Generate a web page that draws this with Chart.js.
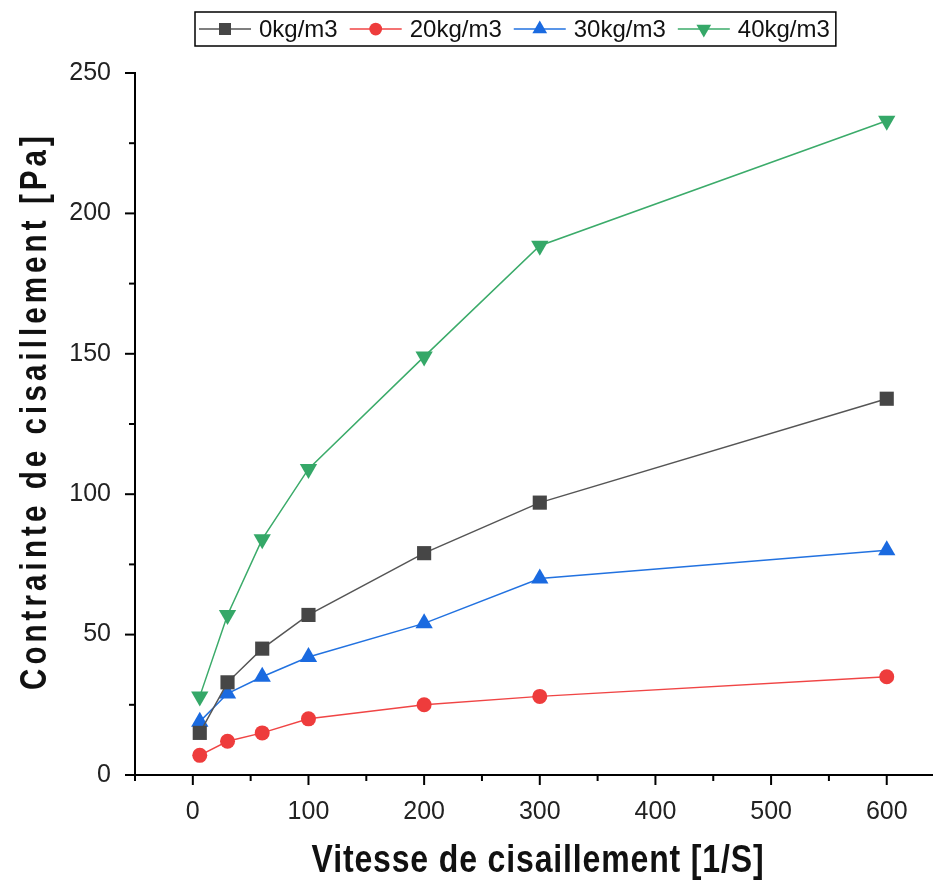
<!DOCTYPE html>
<html>
<head>
<meta charset="utf-8">
<script src="https://cdn.jsdelivr.net/npm/chart.js@4.4.0/dist/chart.umd.min.js"></script>
<style>
  html, body { margin: 0; padding: 0; background: #fff; }
  #wrap { width: 933px; height: 883px; position: relative; }
</style>
</head>
<body>
<div id="wrap"><canvas id="chart"></canvas></div>
<script>
// data
const shearRate = [6, 30, 60, 100, 200, 300, 600];
const stress0 = [15, 33, 45, 57, 79, 97, 134];
const stress20 = [7, 12, 15, 20, 25, 28, 35];
const stress30 = [19, 29, 35, 42, 54, 70, 80];
const stress40 = [28, 57, 84, 109, 149, 188.5, 233];
const seriesLabels = ["0kg/m3", "20kg/m3", "30kg/m3", "40kg/m3"];
const xTickValues = [-50, 0, 50, 100, 150, 200, 250, 300, 350, 400, 450, 500, 550, 600];
const yTickValues = [0, 25, 50, 75, 100, 125, 150, 175, 200, 225, 250];
const xTitle = "Vitesse de cisaillement [1/S]";
const yTitle = "Contrainte de cisaillement [Pa]";

const lineColors = ["#555555", "#f04545", "#2272e0", "#3bab6a"];
const markColors = ["#464646", "#ee3c3c", "#1a6ae0", "#35a868"];
const markStyles = ["rect", "circle", "triangle", "triangle"];
const markRot = [0, 0, 0, 180];
const markRadius = [10, 7.5, 10, 10];

const toPoints = (ys) => shearRate.map((x, i) => ({ x: x, y: ys[i] }));
const allSeries = [stress0, stress20, stress30, stress40];

const datasets = allSeries.map((ys, i) => ({
  label: seriesLabels[i],
  data: toPoints(ys),
  showLine: true,
  borderColor: lineColors[i],
  borderWidth: 1.5,
  backgroundColor: markColors[i],
  pointBackgroundColor: markColors[i],
  pointBorderColor: markColors[i],
  pointBorderWidth: 0,
  pointStyle: markStyles[i],
  pointRotation: markRot[i],
  pointRadius: markRadius[i],
  pointHoverRadius: markRadius[i]
}));

const sansFamily = "'Liberation Sans', Arial, sans-serif";

// squeeze a bold title into the width it takes in the figure
function drawSqueezed(ctx, text, cx, cy, angle, fontPx, spacing, targetLen) {
  ctx.save();
  ctx.font = "bold " + fontPx + "px " + sansFamily;
  ctx.letterSpacing = spacing + "px";
  const w = ctx.measureText(text).width;
  ctx.translate(cx, cy);
  ctx.rotate(angle);
  ctx.scale(targetLen / w, 1);
  ctx.textAlign = "center";
  ctx.textBaseline = "middle";
  ctx.fillStyle = "#111";
  ctx.fillText(text, 0, 0);
  ctx.restore();
}

// 📏 ticks, axis titles and framed legend
const decorPlugin = {
  id: "decor",
  afterDraw(chart) {
    const ctx = chart.ctx;
    const xs = chart.scales.x, ys = chart.scales.y;
    const area = chart.chartArea;
    ctx.save();
    ctx.strokeStyle = "#000";
    ctx.lineWidth = 2;
    xs.ticks.forEach(t => {
      const px = xs.getPixelForValue(t.value);
      const len = (t.value >= 0 && t.value % 100 === 0) ? 10 : 6;
      ctx.beginPath();
      ctx.moveTo(px, area.bottom);
      ctx.lineTo(px, area.bottom + len);
      ctx.stroke();
    });
    ys.ticks.forEach(t => {
      const py = ys.getPixelForValue(t.value);
      const len = (t.value % 50 === 0) ? 10 : 6;
      ctx.beginPath();
      ctx.moveTo(area.left, py);
      ctx.lineTo(area.left - len, py);
      ctx.stroke();
    });

    // axis titles
    drawSqueezed(ctx, xTitle, 538, 862, 0, 38, 1, 453);
    drawSqueezed(ctx, yTitle, 36, 411, -Math.PI / 2, 36, 5, 558);

    // legend box
    const boxX = 195, boxY = 12, boxH = 34;
    ctx.font = "24px " + sansFamily;
    ctx.textAlign = "left";
    ctx.textBaseline = "middle";
    let cx = boxX + 4;
    const cy = boxY + boxH / 2;
    chart.data.datasets.forEach((ds) => {
      ctx.strokeStyle = ds.borderColor;
      ctx.lineWidth = 1.5;
      ctx.beginPath();
      ctx.moveTo(cx, cy);
      ctx.lineTo(cx + 52, cy);
      ctx.stroke();
      ctx.save();
      ctx.fillStyle = ds.pointBackgroundColor;
      ctx.strokeStyle = ds.pointBackgroundColor;
      Chart.helpers.drawPoint(ctx, {
        pointStyle: ds.pointStyle,
        rotation: ds.pointRotation,
        radius: ds.pointRadius * 0.85,
        borderWidth: 0
      }, cx + 26, cy);
      ctx.restore();
      ctx.fillStyle = "#111";
      ctx.fillText(ds.label, cx + 60, cy + 1);
      cx += 60 + ctx.measureText(ds.label).width + 12;
    });
    ctx.strokeStyle = "#000";
    ctx.lineWidth = 1.5;
    ctx.strokeRect(boxX, boxY, cx - boxX - 6, boxH);
    ctx.restore();
  }
};

const ctx = document.getElementById("chart").getContext("2d");
const chart = new Chart(ctx, {
  type: "scatter",
  data: { datasets: datasets },
  options: {
    responsive: true,
    maintainAspectRatio: false,
    animation: false,
    layout: { autoPadding: false, padding: { top: 73, right: 0, left: 0, bottom: 0 } },
    plugins: {
      legend: { display: false },
      tooltip: { enabled: false }
    },
    scales: {
      x: {
        type: "linear",
        min: -50,
        max: 640,
        afterBuildTicks: s => { s.ticks = xTickValues.map(v => ({ value: v })); },
        afterFit: s => { s.height = 108; s.paddingLeft = 0; s.paddingRight = 0; },
        grid: { display: true, drawOnChartArea: false, drawTicks: false },
        border: { display: true, color: "#000", width: 2 },
        ticks: {
          padding: 22,
          color: "#222",
          font: { family: sansFamily, size: 25 },
          maxRotation: 0,
          autoSkip: false,
          callback: v => (v >= 0 && v % 100 === 0) ? String(v) : ""
        }
      },
      y: {
        type: "linear",
        min: 0,
        max: 250,
        afterBuildTicks: s => { s.ticks = yTickValues.map(v => ({ value: v })); },
        afterFit: s => { s.width = 135; },
        grid: { display: true, drawOnChartArea: false, drawTicks: false },
        border: { display: true, color: "#000", width: 2 },
        ticks: {
          padding: 24,
          color: "#222",
          font: { family: sansFamily, size: 25 },
          autoSkip: false,
          callback: v => (v % 50 === 0) ? String(v) : ""
        }
      }
    }
  },
  plugins: [decorPlugin]
});
</script>
</body>
</html>
